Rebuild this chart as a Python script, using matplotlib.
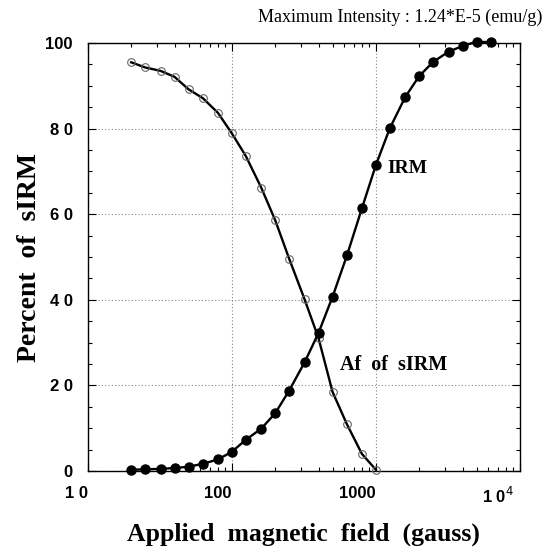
import matplotlib.pyplot as plt
from matplotlib.ticker import FixedLocator, MultipleLocator, LogLocator, NullFormatter

# applied field steps (gauss)
field_af = [20, 25, 32, 40, 50, 63, 80, 100, 125, 160, 200, 250, 320, 400, 500, 630, 800, 1000]
af_pct = [95.5, 94.3, 93.5, 92.1, 89.2, 87.1, 83.7, 78.9, 73.6, 66.2, 58.6, 49.6, 40.1, 31.0, 18.5, 10.9, 4.0, 0.3]

field_irm = [20, 25, 32, 40, 50, 63, 80, 100, 125, 160, 200, 250, 320, 400, 500, 630, 800, 1000,
             1250, 1600, 2000, 2500, 3200, 4000, 5000, 6300]
irm_pct = [0.3, 0.4, 0.5, 0.7, 1.0, 1.7, 2.7, 4.5, 7.3, 9.9, 13.5, 18.8, 25.4, 32.3, 40.7, 50.4, 61.4, 71.5,
           80.1, 87.4, 92.3, 95.6, 98.0, 99.3, 100.3, 100.2]

xticks = [10, 100, 1000, 10000]
xticklabels = ['1 0', '100', '1000', r'1 0$^{4}$  ']
yticks = [0, 20, 40, 60, 80, 100]
yticklabels = ['0', '2 0', '4 0', '6 0', '8 0', '100']

serif = ['Liberation Serif', 'DejaVu Serif']
sans = ['Liberation Sans', 'DejaVu Sans']

fig = plt.figure(figsize=(5.49, 5.52), dpi=100)
ax = fig.add_axes([0.160, 0.1467, 0.787, 0.7753])

ax.plot(field_af, af_pct, color='black', lw=1.7, marker='o', ms=5.5, mfc='none', mec='#666666',
        mew=0.8, zorder=3, clip_on=False)
ax.plot(field_irm, irm_pct, color='black', lw=1.7, marker='o', ms=6.5, mfc='black', mec='black',
        zorder=4, clip_on=False)

ax.set_xscale('log')
ax.set_xlim(10, 10000)
ax.set_ylim(0, 100)

ax.xaxis.set_major_locator(FixedLocator(xticks))
ax.set_xticklabels(xticklabels, fontfamily=sans, fontweight='bold', fontsize=12, ha='right')
ax.xaxis.set_minor_locator(LogLocator(base=10, subs=range(2, 10)))
ax.xaxis.set_minor_formatter(NullFormatter())
ax.yaxis.set_major_locator(FixedLocator(yticks))
ax.set_yticklabels(yticklabels, fontfamily=sans, fontweight='bold', fontsize=12)
ax.yaxis.set_minor_locator(MultipleLocator(5))

ax.tick_params(which='both', direction='in', top=True, right=True, width=0.8)
ax.tick_params(which='major', length=6)
ax.tick_params(which='minor', length=3)
ax.tick_params(axis='x', which='major', pad=11)
ax.tick_params(axis='y', which='major', pad=11)

ax.grid(True, which='major', color='#888888', linestyle=(0, (1, 2)), lw=0.8)
for s in ax.spines.values():
    s.set_linewidth(1.0)

ax.set_xlabel('Applied  magnetic  field  (gauss)', fontfamily=serif, fontweight='bold',
              fontsize=18.5, labelpad=12)
ax.set_ylabel('Percent  of  sIRM', fontfamily=serif, fontweight='bold', fontsize=20, labelpad=2)

ax.text(1200, 70.8, 'IRM', fontfamily=serif, fontweight='bold', fontsize=14, va='center')
ax.text(560, 24.8, 'Af  of  sIRM', fontfamily=serif, fontweight='bold', fontsize=14.5, va='center')

fig.text(0.988, 0.968, 'Maximum Intensity : 1.24*E-5 (emu/g)', fontfamily=serif, fontsize=13,
         ha='right', va='center')

fig.savefig('out.png', dpi=100)
